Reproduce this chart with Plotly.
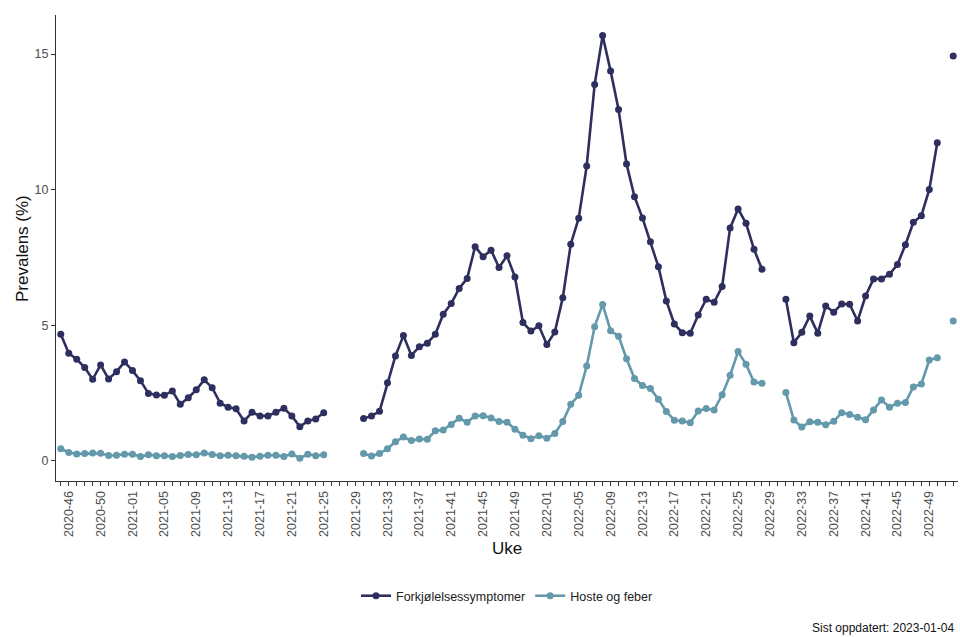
import plotly.graph_objects as go

# Week categories 2020-45 .. 2022-52 (2020 has 53 ISO weeks)
weeks = ([f"2020-{w:02d}" for w in range(45, 54)] +
         [f"2021-{w:02d}" for w in range(1, 53)] +
         [f"2022-{w:02d}" for w in range(1, 53)])

label_weeks = weeks[1::4]  # labelled ticks: 2020-46, 2020-50, ..., 2022-49

forkjolelse = [
    4.67, 3.97, 3.75, 3.44, 3.01, 3.54, 3.02, 3.29, 3.65, 3.33, 2.96, 2.49, 2.43, 2.42, 2.58, 2.09, 2.33,
    2.62, 2.99, 2.70, 2.13, 1.98, 1.92, 1.47, 1.79, 1.66, 1.66, 1.79, 1.94, 1.66, 1.26, 1.47, 1.55, 1.78,
    None, None, None, None,
    1.56, 1.66, 1.83, 2.88, 3.87, 4.62, 3.89, 4.21, 4.34, 4.67, 5.41, 5.80, 6.36, 6.73, 7.90, 7.53, 7.77,
    7.13, 7.56, 6.78, 5.10, 4.79, 4.98, 4.29, 4.75, 6.02, 7.99, 8.95, 10.87, 13.88, 15.68, 14.38, 12.96,
    10.95, 9.74, 8.96, 8.08, 7.16, 5.90, 5.05, 4.73, 4.71, 5.38, 5.96, 5.85, 6.43, 8.59, 9.29, 8.76, 7.80, 7.07,
    None, None,
    5.96, 4.36, 4.74, 5.34, 4.71, 5.71, 5.48, 5.79, 5.78, 5.16, 6.08, 6.71, 6.71, 6.88, 7.24, 7.97, 8.80,
    9.04, 10.01, 11.73,
    None,
    14.93,
]

hoste_feber = [
    0.45, 0.31, 0.26, 0.27, 0.29, 0.28, 0.20, 0.21, 0.25, 0.25, 0.16, 0.23, 0.19, 0.19, 0.16, 0.20, 0.24,
    0.23, 0.29, 0.24, 0.19, 0.21, 0.19, 0.17, 0.14, 0.17, 0.21, 0.21, 0.16, 0.26, 0.10, 0.25, 0.19, 0.23,
    None, None, None, None,
    0.27, 0.18, 0.27, 0.45, 0.71, 0.88, 0.75, 0.81, 0.80, 1.11, 1.14, 1.34, 1.57, 1.43, 1.66, 1.67, 1.58,
    1.45, 1.43, 1.17, 0.95, 0.82, 0.93, 0.84, 1.01, 1.45, 2.09, 2.42, 3.50, 4.95, 5.77, 4.80, 4.60,
    3.77, 3.04, 2.78, 2.67, 2.27, 1.82, 1.50, 1.47, 1.41, 1.84, 1.93, 1.88, 2.44, 3.16, 4.03, 3.56, 2.91, 2.86,
    None, None,
    2.52, 1.51, 1.25, 1.44, 1.43, 1.33, 1.46, 1.78, 1.71, 1.61, 1.52, 1.88, 2.25, 1.98, 2.13, 2.15, 2.73,
    2.84, 3.72, 3.80,
    None,
    5.16,
]

y_ticks = [0, 5, 10, 15]

DARK = "#2E2F5E"
TEAL = "#6399AA"
FONT = "Liberation Sans, Arial, sans-serif"

fig = go.Figure()
fig.add_trace(go.Scatter(x=weeks, y=forkjolelse, name="Forkjølelsessymptomer",
                         mode="lines+markers", connectgaps=False,
                         line=dict(color=DARK, width=2.6), marker=dict(color=DARK, size=7)))
fig.add_trace(go.Scatter(x=weeks, y=hoste_feber, name="Hoste og feber",
                         mode="lines+markers", connectgaps=False,
                         line=dict(color=TEAL, width=2.6), marker=dict(color=TEAL, size=7)))

fig.update_layout(
    width=960, height=637,
    margin=dict(l=56, r=2, t=15, b=156),
    paper_bgcolor="white", plot_bgcolor="white",
    font=dict(family=FONT, color="#222222"),
    showlegend=True,
    legend=dict(orientation="h", x=0.5, xanchor="center", y=-0.247, yanchor="middle",
                font=dict(size=12.5, color="#222222"), itemwidth=30, tracegroupgap=0),
    xaxis=dict(
        type="category", categoryorder="array", categoryarray=weeks,
        range=[-0.6, len(weeks) - 0.4],
        tickmode="array", tickvals=weeks,
        ticktext=[w if w in label_weeks else "" for w in weeks],
        tickangle=-90, tickfont=dict(size=12.5, color="#4D4D4D", family=FONT),
        ticks="outside", ticklen=4, tickcolor="#333333", tickwidth=1,
        showline=True, linecolor="#333333", linewidth=1.2,
        showgrid=False, zeroline=False, automargin=False,
    ),
    yaxis=dict(
        range=[-0.74, 16.44], tickvals=y_ticks,
        tickfont=dict(size=12.5, color="#4D4D4D", family=FONT),
        ticks="outside", ticklen=4, tickcolor="#333333", tickwidth=1,
        showline=True, linecolor="#333333", linewidth=1.2,
        showgrid=False, zeroline=False, automargin=False,
    ),
    annotations=[
        dict(text="Uke", xref="paper", yref="paper", x=0.5, y=-0.1438,
             xanchor="center", yanchor="middle", showarrow=False,
             font=dict(size=17, color="#111111", family=FONT)),
        dict(text="Prevalens (%)", xref="paper", yref="paper", x=-0.0377, y=0.5,
             xanchor="center", yanchor="middle", textangle=-90, showarrow=False,
             font=dict(size=17, color="#111111", family=FONT)),
        dict(text="Sist oppdatert: 2023-01-04", xref="paper", yref="paper", x=0.9978, y=-0.3155,
             xanchor="right", yanchor="middle", showarrow=False,
             font=dict(size=12, color="#111111", family=FONT)),
    ],
)

# remove the default page margin so the 960x637 figure fills the window exactly
fig.write_html("out.html",
               config={"displayModeBar": False},
               post_script="document.body.style.margin='0px';document.body.style.overflow='hidden';")
